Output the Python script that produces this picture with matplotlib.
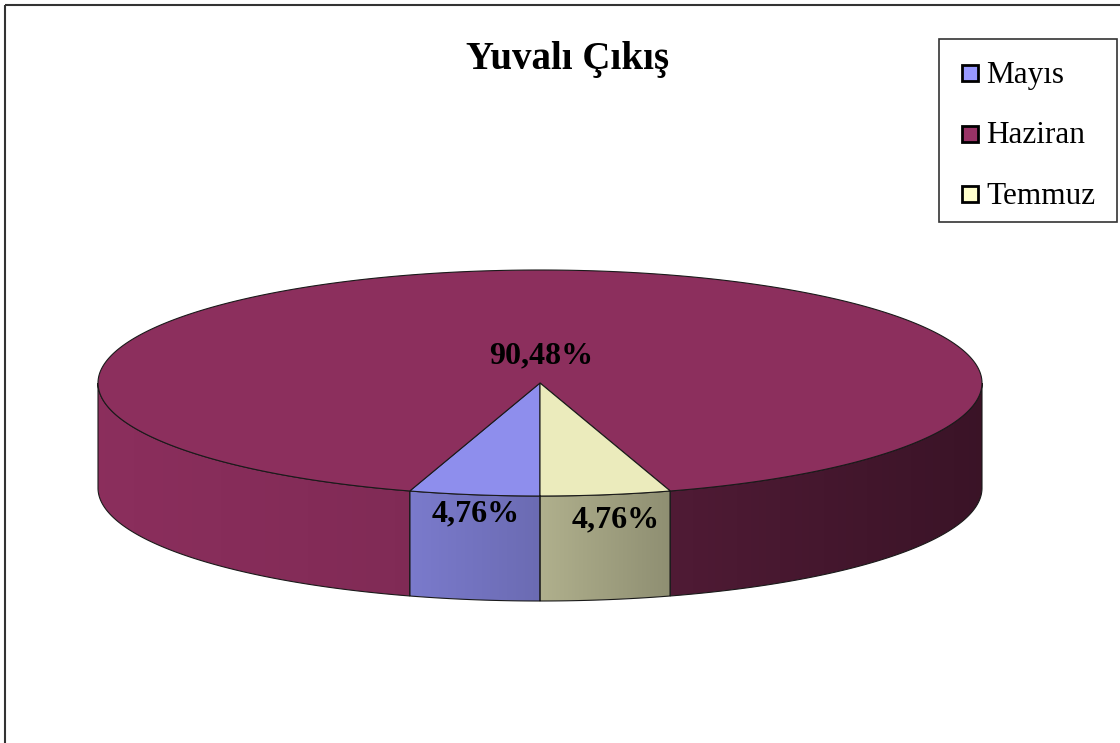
import numpy as np
import matplotlib.pyplot as plt
from matplotlib.patches import Polygon, Rectangle
from matplotlib.colors import to_rgb

title = 'Yuvalı Çıkış'
labels = ['Mayıs', 'Haziran', 'Temmuz']
values = [4.76, 90.48, 4.76]
value_text = ['4,76%', '90,48%', '4,76%']
colors = ['#9999ff', '#993366', '#ffffcc']

# lighting: top face factor, side factor at left/right end of each visible side piece
top_shade = [0.93, 0.915, 0.92]
side_shade = [[(0.80, 0.70)], [(0.91, 0.84), (0.52, 0.38)], [(0.69, 0.56)]]
label_pos = [(476, 514), (541, 356), (616, 520)]

cx, cy = 540, 383
rx, ry = 442, 113
depth = 105
start = 270

plt.rcParams['font.family'] = ['Liberation Serif', 'DejaVu Serif']
fig = plt.figure(figsize=(11.2, 7.43), dpi=100)
ax = fig.add_axes([0, 0, 1, 1])
ax.set_xlim(0, 1120)
ax.set_ylim(743, 0)
ax.axis('off')


def pt(t, dz=0.0):
    r = np.radians(t)
    return cx + rx * np.cos(r), cy - ry * np.sin(r) + dz


# slice angle ranges, clockwise from the bottom
spans = np.array(values) / sum(values) * 360
hi = start - np.concatenate([[0], np.cumsum(spans)[:-1]])
lo = hi - spans

# front side walls
for i in range(len(values)):
    segs = []
    for k in (-360, 0, 360):
        a, b = max(lo[i] + k, 180), min(hi[i] + k, 360)
        if b > a:
            segs.append((a, b))
    segs.sort()
    base = np.array(to_rgb(colors[i]))
    for (a, b), (s0, s1) in zip(segs, side_shade[i]):
        t = np.linspace(a, b, 200)
        xt, yt = pt(t)
        xb, yb = pt(t[::-1], depth)
        verts = np.column_stack([np.concatenate([xt, xb]), np.concatenate([yt, yb])])
        poly = Polygon(verts, closed=True, facecolor='none', edgecolor='#1a1a1a', lw=0.8, zorder=3)
        ax.add_patch(poly)
        grad = np.linspace(s0, s1, 256)[None, :, None] * base[None, None, :]
        im = ax.imshow(np.clip(grad, 0, 1), extent=(xt[0], xt[-1], yb.max(), yt.min()),
                       aspect='auto', zorder=2, interpolation='bilinear')
        im.set_clip_path(poly)

# top faces
for i in range(len(values)):
    t = np.linspace(lo[i], hi[i], 400)
    xs, ys = pt(t)
    verts = np.column_stack([np.concatenate([[cx], xs]), np.concatenate([[cy], ys])])
    fc = np.array(to_rgb(colors[i])) * top_shade[i]
    ax.add_patch(Polygon(verts, closed=True, facecolor=fc, edgecolor='#1a1a1a', lw=0.8, zorder=4))

# value labels
for txt, (x, y) in zip(value_text, label_pos):
    ax.text(x, y, txt, ha='center', va='center', fontsize=23, fontweight='bold', zorder=6)

ax.text(568, 59, title, ha='center', va='center', fontsize=28, fontweight='bold')

# legend
ax.add_patch(Rectangle((939, 39), 178, 183, facecolor='white', edgecolor='#333333', lw=1.2, zorder=5))
for i, lab in enumerate(labels):
    ym = 73 + i * 60.5
    ax.add_patch(Rectangle((962, ym - 8), 16, 16, facecolor=colors[i], edgecolor='black', lw=2, zorder=6))
    ax.text(986, ym + 2, lab, ha='left', va='center', fontsize=22.5, zorder=6)

# chart area border
ax.plot([5, 1120], [5, 5], color='#333333', lw=1.5, solid_capstyle='butt')
ax.plot([5, 5], [5, 743], color='#333333', lw=1.5, solid_capstyle='butt')

fig.savefig('out.png', dpi=100)
